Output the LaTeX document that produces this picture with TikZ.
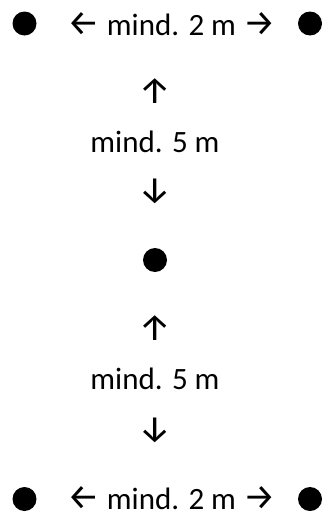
\documentclass[tikz,border=0pt]{standalone}
\usepackage{fontspec}
\setmainfont{Carlito}
\newfontfamily\arrowfont{Fira Sans}
\newcommand{\arr}[1]{{\fontsize{36}{36}\selectfont\arrowfont #1}}
\usetikzlibrary{positioning}

\begin{document}
\begin{tikzpicture}[
    x=1pt, y=-1pt,
    every node/.style={inner sep=0pt, font=\fontsize{31}{34}\selectfont},
    spot/.style={circle, fill=black, minimum size=24pt},
    dist/.style={anchor=base},
    tip/.style={font=\fontsize{37}{37}\selectfont\arrowfont}
]
    \useasboundingbox (0,0) rectangle (325,522);

    % Top row
    \node[spot] (dotTL) at (24.5,23.5) {};
    \node[spot] (dotTR) at (310,23.5) {};
    \node[dist] (gapTop) at (171.5,35) {\arr{←} mind. 2 m \arr{→}};

    % Upper distance
    \node[tip] (upA) at (155,91) {↑};
    \node[dist] (distA) at (155,152) {mind. 5 m};
    \node[tip] (downA) at (155,191) {↓};

    % Middle
    \node[spot] (dotMid) at (155,260) {};

    % Lower distance
    \node[tip] (upB) at (155,328) {↑};
    \node[dist] (distB) at (155,389) {mind. 5 m};
    \node[tip] (downB) at (155,430) {↓};

    % Bottom row
    \node[spot] (dotBL) at (24.5,499) {};
    \node[spot] (dotBR) at (310,499) {};
    \node[dist] (gapBot) at (171.5,509) {\arr{←} mind. 2 m \arr{→}};
\end{tikzpicture}
\end{document}
